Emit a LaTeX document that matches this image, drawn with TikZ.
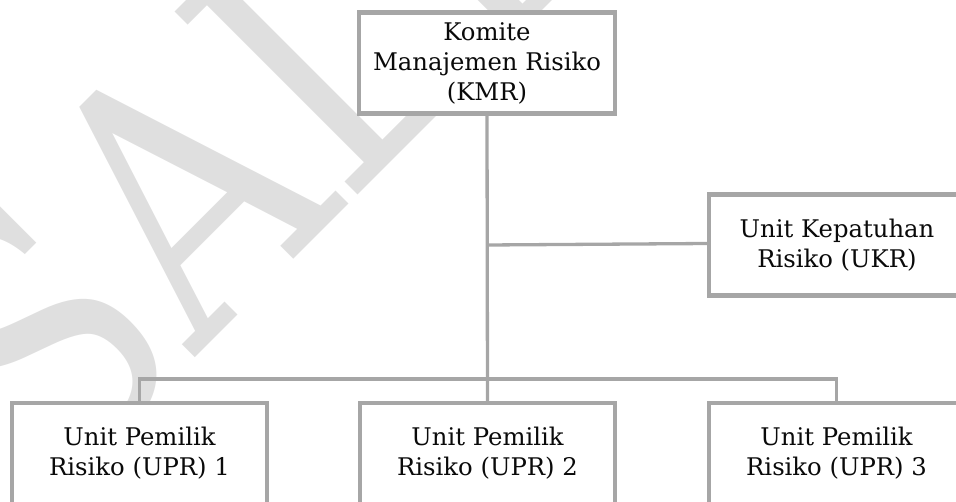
\documentclass[tikz,border=0pt]{standalone}
\usepackage{fontspec}
\setmainfont{DejaVu Serif}
\newfontfamily\wmfont{DejaVu Serif}
\usepackage{graphicx}
\definecolor{boxgray}{RGB}{166,166,166}
\definecolor{wmgray}{RGB}{223,223,223}
\definecolor{txt}{RGB}{10,10,10}
\begin{document}
\begin{tikzpicture}[x=1pt,y=-1pt,
  box/.style={draw=boxgray, line width=4.3pt, fill=white, minimum width=256pt,
    minimum height=101pt, align=center, text=txt, inner sep=0pt,
    font=\fontsize{24.3}{30}\selectfont},
  conn/.style={draw=boxgray, line width=3.3pt},
  wm/.style={text=wmgray, inner sep=0pt, anchor=base west, rotate=45,
    font=\wmfont\fontsize{355}{355}\selectfont}]
\useasboundingbox (0,0) rectangle (956,501);
\clip (0,0) rectangle (956,501);
\node[wm] (mark) at (196,357) {\scalebox{0.83}[1]{\llap{S}ALINAN}};
\node[box] (kmr) at (487,63) {Komite\\Manajemen Risiko\\(KMR)};
\node[box] (ukr) at (837,245) {Unit Kepatuhan\\Risiko (UKR)};
\node[box, minimum width=255pt] (upr1) at (139.5,453.5) {Unit Pemilik\\Risiko (UPR) 1};
\node[box, minimum width=255pt] (upr2) at (487.5,453.5) {Unit Pemilik\\Risiko (UPR) 2};
\node[box, minimum width=255pt] (upr3) at (836.5,453.5) {Unit Pemilik\\Risiko (UPR) 3};
\coordinate (bus) at (487.5,379);
\draw[conn] (kmr.south) -- (upr2.north);
\draw[conn] (kmr.south |- ukr.west) -- ([yshift=1.5pt]ukr.west);
\draw[conn] (upr1.north) |- (bus) -| (upr3.north);
\end{tikzpicture}
\end{document}
